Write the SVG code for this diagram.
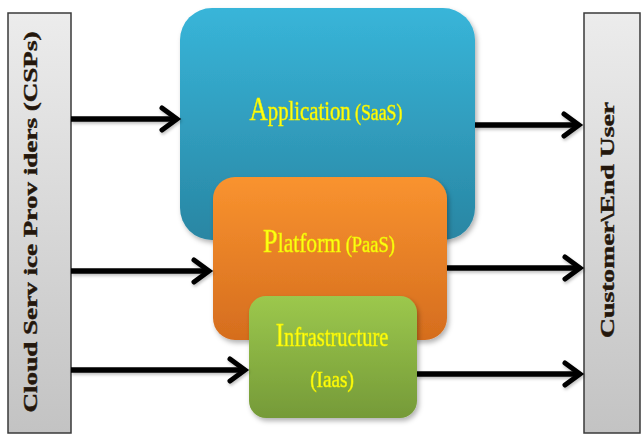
<svg xmlns="http://www.w3.org/2000/svg" width="642" height="436" viewBox="0 0 642 436">
  <defs>
    <linearGradient id="gGray" x1="0" y1="0" x2="0" y2="1">
      <stop offset="0" stop-color="#ececec"/>
      <stop offset="1" stop-color="#c3c3c3"/>
    </linearGradient>
    <linearGradient id="gBlue" x1="0" y1="0" x2="0" y2="1">
      <stop offset="0" stop-color="#38b5d9"/>
      <stop offset="1" stop-color="#2986a3"/>
    </linearGradient>
    <linearGradient id="gOrange" x1="0" y1="0" x2="0" y2="1">
      <stop offset="0" stop-color="#f9932f"/>
      <stop offset="1" stop-color="#d56d1e"/>
    </linearGradient>
    <linearGradient id="gGreen" x1="0" y1="0" x2="0" y2="1">
      <stop offset="0" stop-color="#9cc84d"/>
      <stop offset="1" stop-color="#759a38"/>
    </linearGradient>
    <filter id="shadow" x="-10%" y="-10%" width="125%" height="130%">
      <feDropShadow dx="2" dy="3" stdDeviation="2.5" flood-color="#000" flood-opacity="0.3"/>
    </filter>
    <filter id="soft" x="-5%" y="-50%" width="110%" height="200%">
      <feDropShadow dx="1" dy="2" stdDeviation="1.5" flood-color="#000" flood-opacity="0.25"/>
    </filter>
    <marker id="chev" markerUnits="userSpaceOnUse" viewBox="-20 -15 26 30" refX="0" refY="0" markerWidth="26" markerHeight="30" orient="auto" overflow="visible">
      <path d="M-15,-11 L0,0 L-15,11" fill="none" stroke="#000" stroke-width="5" stroke-linejoin="miter" stroke-linecap="round"/>
    </marker>
  </defs>
  <style>
    .side { fill: url(#gGray); stroke: #3a3a3a; stroke-width: 1.5; }
    .sideText { font-family: "Liberation Serif", "Times New Roman", serif; font-weight: bold; font-size: 18px; fill: #24170c; stroke: #24170c; stroke-width: 0.4; }
    .layerText { font-family: "Liberation Serif", "Times New Roman", serif; fill: #ffff14; stroke: #eeee00; stroke-width: 0.6; }
    .big { font-size: 34px; }
    .mid { font-size: 28px; }
    .small { font-size: 24px; }
    .arrow { stroke: #000; stroke-width: 5.5; fill: none; marker-end: url(#chev); }
  </style>

  <!-- provider column -->
  <g id="providers">
    <rect class="side" x="8" y="13" width="63" height="420"/>
    <text class="sideText" transform="translate(37,222) rotate(-90)" text-anchor="middle" textLength="381" lengthAdjust="spacingAndGlyphs">Cloud Serv ice Prov iders (CSPs)</text>
  </g>

  <!-- consumer column -->
  <g id="endUser">
    <rect class="side" x="584" y="13" width="56" height="420"/>
    <text class="sideText" transform="translate(614,220) rotate(-90)" text-anchor="middle" textLength="236" lengthAdjust="spacingAndGlyphs">Customer\End User</text>
  </g>

  <!-- service layers, stacked -->
  <g id="saas" filter="url(#shadow)">
    <rect x="180" y="8" width="295" height="232" rx="32" fill="url(#gBlue)"/>
    <text class="layerText" transform="translate(326,120) scale(0.74,1)" text-anchor="middle"><tspan class="big">A</tspan><tspan class="mid">pplication</tspan><tspan class="small"> (SaaS)</tspan></text>
  </g>

  <g id="paas" filter="url(#shadow)">
    <rect x="213" y="177" width="234" height="163" rx="22" fill="url(#gOrange)"/>
    <text class="layerText" transform="translate(329,252) scale(0.77,1)" text-anchor="middle"><tspan class="big">P</tspan><tspan class="mid">latform</tspan><tspan class="small"> (PaaS)</tspan></text>
  </g>

  <g id="iaas" filter="url(#shadow)">
    <rect x="249" y="296" width="168" height="122" rx="17" fill="url(#gGreen)"/>
    <text class="layerText" transform="translate(332,346) scale(0.73,1)" text-anchor="middle"><tspan class="big">I</tspan><tspan class="mid">nfrastructure</tspan></text>
    <text class="layerText" transform="translate(332,387) scale(0.8,1)" text-anchor="middle" font-size="24">(Iaas)</text>
  </g>

  <!-- connectors -->
  <g id="connectors" filter="url(#soft)">
    <line class="arrow" x1="71" y1="119" x2="177" y2="119"/>
    <line class="arrow" x1="71" y1="271" x2="209" y2="271"/>
    <line class="arrow" x1="71" y1="370" x2="245" y2="370"/>
    <line class="arrow" x1="475" y1="125" x2="579" y2="125"/>
    <line class="arrow" x1="447" y1="268" x2="580" y2="268"/>
    <line class="arrow" x1="417" y1="374" x2="580" y2="374"/>
  </g>
</svg>
